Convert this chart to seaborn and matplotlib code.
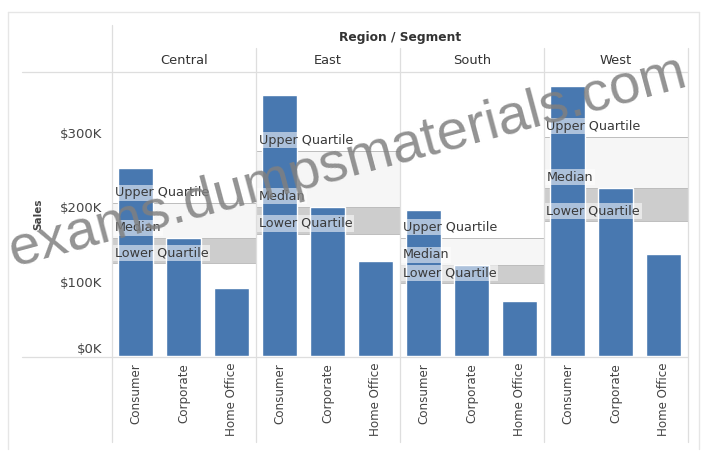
import matplotlib
matplotlib.use("Agg")
import matplotlib.pyplot as plt
import seaborn as sns
import numpy as np
import pandas as pd
from matplotlib.lines import Line2D

# ---- data ----
regions = ["Central", "East", "South", "West"]
segments = ["Consumer", "Corporate", "Home Office"]
central_sales = [252031, 157996, 91213]
east_sales = [350908, 200409, 127464]
south_sales = [195581, 121886, 74255]
west_sales = [362881, 225856, 136722]
sales_by_region = [central_sales, east_sales, south_sales, west_sales]
ytick_values = [0, 100000, 200000, 300000]
ytick_labels = ["$0K", "$100K", "$200K", "$300K"]

sns.set_theme(style="white")
plt.rcParams['font.family'] = ['DejaVu Sans']

BAR = "#4878b0"
W, H = 706, 451
fig = plt.figure(figsize=(7.06, 4.51), dpi=100)
fig.patch.set_facecolor("white")


def fx(px):
    return px / W


def fy(py):
    return 1 - py / H


pane_left = 112
pane_w = 143.9
top = 73
zero = 356
ymax = 380000

for i, (region, vals) in enumerate(zip(regions, sales_by_region)):
    ax = fig.add_axes([fx(pane_left + i * pane_w), fy(zero), pane_w / W, (zero - top) / H])
    df = pd.DataFrame({"Segment": segments, "Sales": vals})
    sns.barplot(data=df, x="Segment", y="Sales", color=BAR, saturation=1,
                width=0.73, errorbar=None, ax=ax, zorder=3)
    q1, med, q3 = np.percentile(vals, [25, 50, 75])
    ax.axhspan(q1, med, color="#cdcdcd", zorder=1, lw=0)
    ax.axhspan(med, q3, color="#f6f6f6", zorder=1, lw=0)
    for v in (q1, med, q3):
        ax.axhline(v, color="#bdbdbd", lw=0.7, zorder=2)
    for name, v in (("Upper Quartile", q3), ("Median", med), ("Lower Quartile", q1)):
        ax.annotate(name, xy=(0, v), xycoords=ax.get_yaxis_transform(),
                    xytext=(2, 7.5), textcoords="offset points",
                    ha="left", va="center", fontsize=9.2, color="#3a3a3a",
                    bbox=dict(boxstyle="square,pad=0.12", fc="white", ec="none", alpha=0.55),
                    zorder=6)
    ax.set_xlim(-0.5, 2.5)
    ax.set_ylim(0, ymax)
    ax.set_xlabel("")
    ax.set_ylabel("")
    for s in ax.spines.values():
        s.set_visible(False)
    ax.set_facecolor("none")
    ax.tick_params(axis="x", length=0, pad=5, labelsize=8.6, labelcolor="#444444", rotation=90)
    ax.set_yticks(ytick_values)
    if i == 0:
        ax.set_yticklabels(ytick_labels)
        ax.tick_params(axis="y", length=0, pad=7, labelsize=9.5, labelcolor="#444444")
        ax.get_yticklabels()[0].set_va("bottom")
    else:
        ax.set_yticklabels([])
        ax.tick_params(axis="y", length=0)
    fig.text(fx(pane_left + (i + 0.5) * pane_w), fy(61), region, ha="center", va="center",
             fontsize=9.4, color="#333333")

# headers and axis title
fig.text(fx(400), fy(38), "Region / Segment", ha="center", va="center",
         fontsize=8.8, fontweight="bold", color="#333333")
fig.text(fx(38), fy(214), "Sales", ha="center", va="center", rotation=90,
         fontsize=7.5, fontweight="bold", color="#444444")

# grid / frame lines
LC = "#dedede"
lines = [
    ((22, 688), (72, 72)),
    ((22, 688), (356.5, 356.5)),
    ((112, 112), (25, 442)),
]
for k in range(1, 5):
    xk = pane_left + k * pane_w
    lines.append(((xk, xk), (48, 442)))
for (xa, xb), (ya, yb) in lines:
    fig.add_artist(Line2D([fx(xa), fx(xb)], [fy(ya), fy(yb)], color=LC, lw=0.9))
# outer frame
for (xa, xb), (ya, yb) in [((8, 699), (12, 12)), ((8, 8), (12, 449)), ((699, 699), (12, 449))]:
    fig.add_artist(Line2D([fx(xa), fx(xb)], [fy(ya), fy(yb)], color="#e6e6e6", lw=1.0))

# watermark
fig.text(fx(14), fy(266), "exams.dumpsmaterials.com", fontsize=40.5, family="Liberation Sans",
         color="#808080", alpha=0.85, rotation=15, rotation_mode="anchor",
         ha="left", va="baseline", zorder=10)

fig.savefig("out.png", dpi=100)
